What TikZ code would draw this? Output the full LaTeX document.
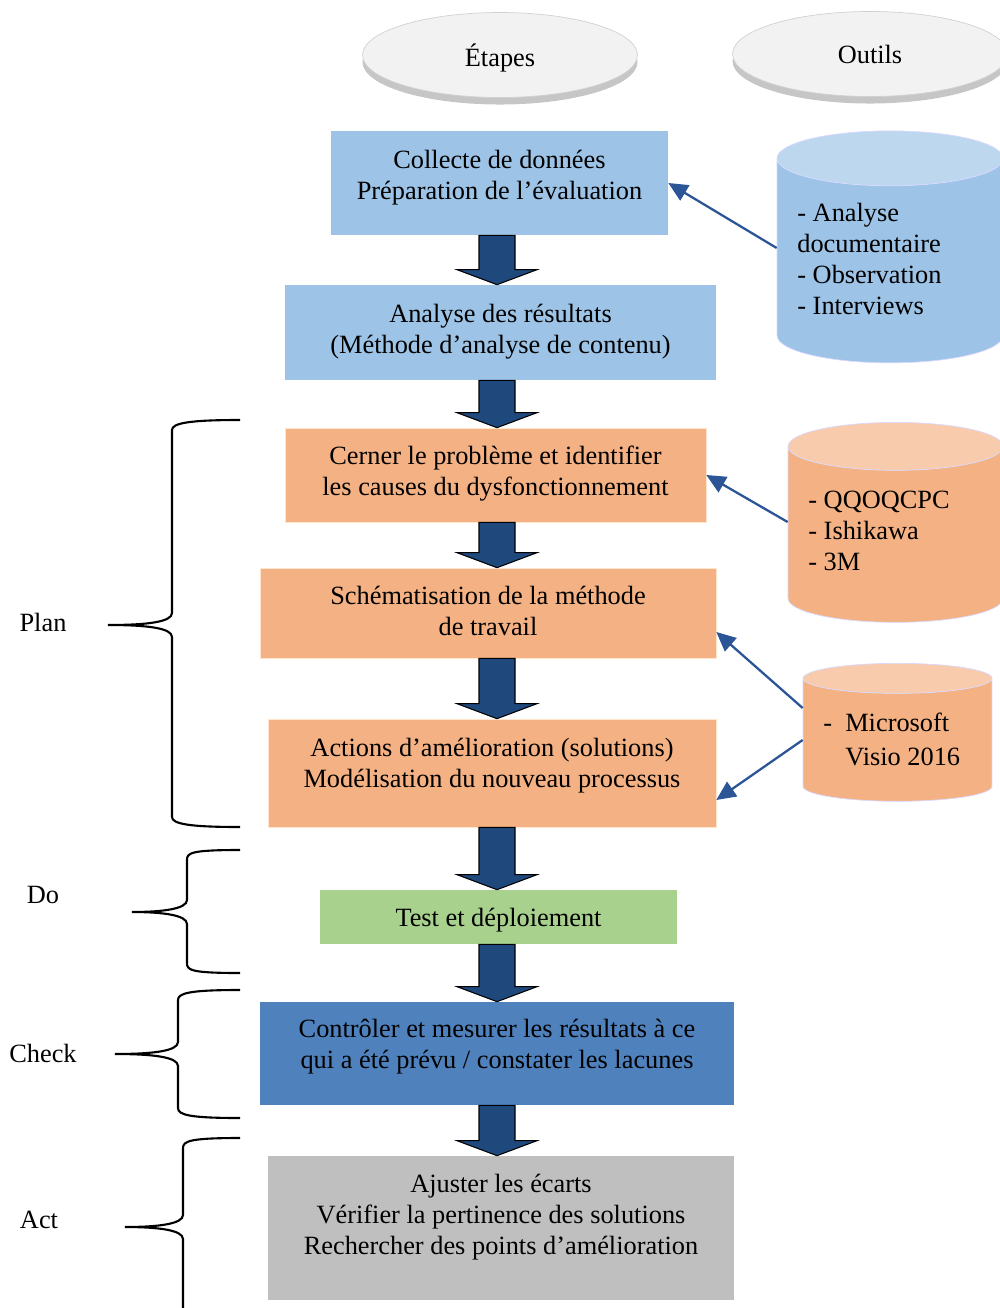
\documentclass[tikz,border=0pt]{standalone}
\usepackage{fontspec}
\setmainfont{Liberation Serif}
\usetikzlibrary{arrows.meta,shapes.geometric,shadows,calc}

\definecolor{stepblue}{HTML}{9DC3E6}
\definecolor{steporange}{HTML}{F4B183}
\definecolor{stepgreen}{HTML}{A9D18E}
\definecolor{stepmid}{HTML}{4F81BD}
\definecolor{stepgray}{HTML}{BFBFBF}
\definecolor{topblue}{HTML}{BDD7EE}
\definecolor{toporange}{HTML}{F8CBAD}
\definecolor{arrowblue}{HTML}{1F497D}
\definecolor{linkblue}{HTML}{2B5597}
\definecolor{headgray}{HTML}{F2F2F2}

\begin{document}
\begin{tikzpicture}[
            x = 0.02cm, y = -0.02cm,
            every node/.style={font=\fontsize{15}{17.6}\selectfont, text depth=0pt},
            etape/.style={rectangle, align=center, inner sep=0pt},
            header/.style={ellipse, fill=headgray, draw=black!18, minimum width=5.5cm, minimum height=1.7cm,
                drop shadow={shadow xshift=0pt, shadow yshift=-4pt, opacity=.45}},
            outil/.style={cylinder, shape border rotate=90, cylinder uses custom fill, draw=white!85!blue,
                inner ysep=0pt},
            liste/.style={anchor=west, align=left, inner sep=0pt},
            bigarrow/.style={fill=arrowblue, draw=black, line width=.6pt, line join=miter},
            link/.style={draw=linkblue, line width=1.3pt, -{Triangle[length=11pt, width=10pt]}},
            brace/.style={line width=1.2pt},
            ]
        \clip (0,0) rectangle (1000,1308);

        % en-tetes
        \node[header] (etapes) at (500,55) {Étapes};
        \node[header] (outils) at (870,54) {Outils};

        % etapes
        \node[etape, fill=stepblue, text depth=0.34cm, minimum width=6.74cm, minimum height=2.08cm] (collecte) at (499.5,183)
            {Collecte de données\\Préparation de l’évaluation};
        \node[etape, fill=stepblue, text depth=0.16cm, minimum width=8.62cm, minimum height=1.9cm] (analyse) at (500.5,332.5)
            {Analyse des résultats\\(Méthode d’analyse de contenu)};
        \node[etape, fill=steporange, draw=white!80!orange, text depth=0.16cm, minimum width=8.42cm, minimum height=1.88cm] (cerner) at (495.5,475)
            {Cerner le problème et identifier\\les causes du dysfonctionnement};
        \node[etape, fill=steporange, draw=white!80!orange, text depth=0.08cm, minimum width=9.12cm, minimum height=1.8cm] (schema) at (488,613)
            {Schématisation de la méthode\\de travail};
        \node[etape, fill=steporange, draw=white!80!orange, text depth=0.42cm, minimum width=8.96cm, minimum height=2.16cm] (actions) at (492,773)
            {Actions d’amélioration (solutions)\\Modélisation du nouveau processus};
        \node[etape, fill=stepgreen, minimum width=7.14cm, minimum height=1.08cm] (test) at (498.5,917)
            {Test et déploiement};
        \node[etape, fill=stepmid, text depth=0.38cm, minimum width=9.48cm, minimum height=2.06cm] (controle) at (497,1053.5)
            {Contrôler et mesurer les résultats à ce\\qui a été prévu / constater les lacunes};
        \node[etape, fill=stepgray, text depth=0.56cm, minimum width=9.32cm, minimum height=2.88cm] (ajuster) at (501,1228)
            {Ajuster les écarts\\Vérifier la pertinence des solutions\\Rechercher des points d’amélioration};

        % fleches entre etapes
        \foreach \a/\b in {collecte/analyse, analyse/cerner, cerner/schema, schema/actions,
                actions/test, test/controle, controle/ajuster} {
            \path (497,0 |- \a.south) coordinate (top) (497,0 |- \b.north) coordinate (tip);
            \draw[bigarrow] ($(top)+(-18,0)$) -- ($(tip)+(-18,-15)$) -- ($(tip)+(-40,-15)$) -- (tip)
                -- ($(tip)+(40,-15)$) -- ($(tip)+(18,-15)$) -- ($(top)+(18,0)$) -- cycle;
        }

        % outils
        \node[outil, cylinder body fill=stepblue, cylinder end fill=topblue, aspect=.243,
            inner xsep=2.26cm, minimum width=4.52cm, minimum height=4.64cm] (docs) at (890,274.5) {};
        \node[outil, cylinder body fill=steporange, cylinder end fill=toporange, aspect=.223,
            inner xsep=2.15cm, minimum width=4.3cm, minimum height=4cm] (methodes) at (895.5,546.5) {};
        \node[outil, cylinder body fill=steporange, cylinder end fill=toporange, aspect=.159,
            inner xsep=1.89cm, minimum width=3.78cm, minimum height=2.76cm] (visio) at (897.5,747.5) {};
        \node[liste] (docs-txt) at (797,259) {- Analyse\\documentaire\\- Observation\\- Interviews};
        \node[liste] (methodes-txt) at (808,531) {- QQOQCPC\\- Ishikawa\\- 3M};
        \node[liste] (visio-txt) at (823,739) {-\enspace Microsoft\\[2pt]\phantom{-\enspace}Visio 2016};

        \draw[link] ([yshift=0.53cm]docs.180) -- (collecte.east);
        \draw[link] ([yshift=0.49cm]methodes.180) -- (cerner.east);
        \draw[link] ([yshift=0.79cm]visio.180) -- ([yshift=-0.38cm]schema.east);
        \draw[link] ([yshift=0.15cm]visio.180) -- ([yshift=-0.54cm]actions.east);

        % accolades PDCA
        \foreach \t/\m/\b/\v/\p in {420/625/827/172/108, 850/912/973/187/132,
                990/1054/1118/178/115, 1138/1227/1322/183/125} {
            \draw[brace] (240,\t) .. controls (190,\t) and (\v,\t+3) .. (\v,\t+10) -- (\v,\m-12)
                .. controls (\v,\m-3) and (\v-25,\m) .. (\p,\m)
                .. controls (\v-25,\m) and (\v,\m+3) .. (\v,\m+12) -- (\v,\b-10)
                .. controls (\v,\b-3) and (190,\b) .. (240,\b);
        }
        \node (plan) at (43,622) {Plan};
        \node (do) at (43,895) {Do};
        \node (check) at (43,1053) {Check};
        \node (act) at (39,1220) {Act};
    \end{tikzpicture}
\end{document}
